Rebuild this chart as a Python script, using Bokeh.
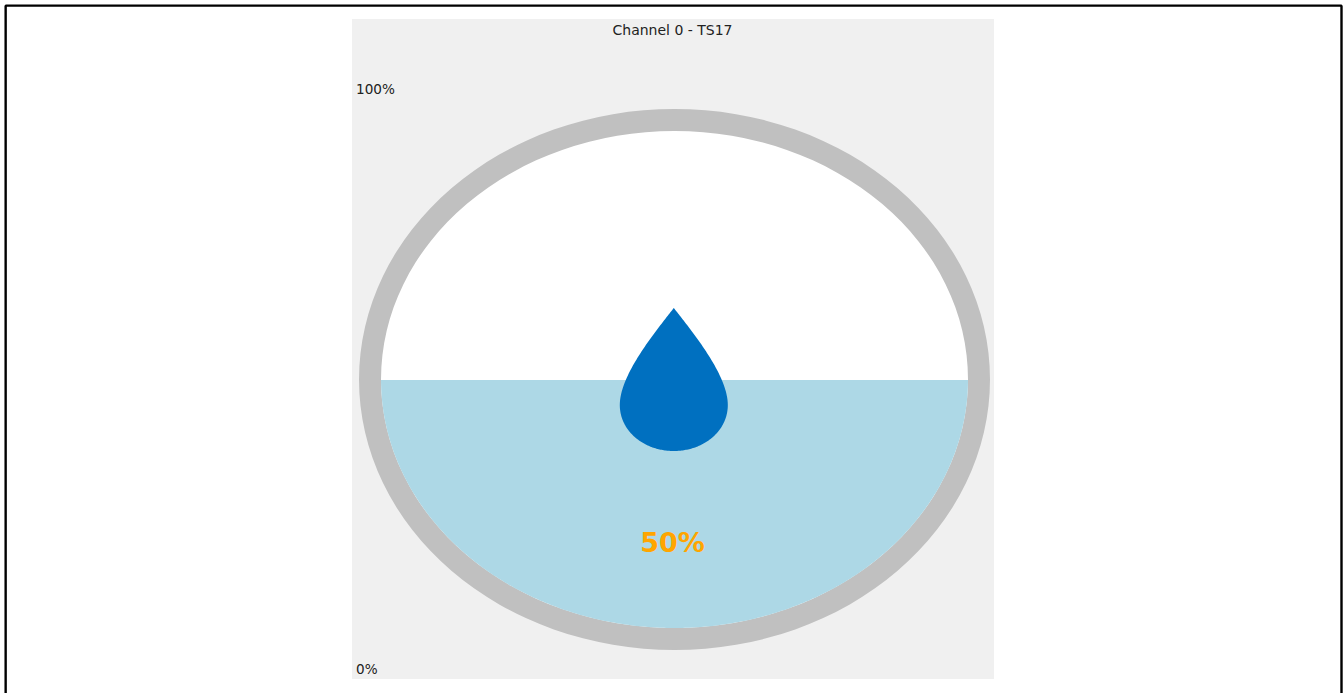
import numpy as np
from bokeh.embed import file_html
from bokeh.models import Range1d
from bokeh.plotting import figure
from bokeh.resources import INLINE

# --- data ---
title = "Channel 0 - TS17"
level_percent = 50
scale_labels = ["100%", "0%"]
level_label = "50%"

# --- layout (screen pixels) ---
W, H = 1343, 693
cx, cy = 674.5, 379.5
outer_rx, outer_ry = 315.5, 270.5
inner_rx, inner_ry = 293.5, 248.5
scale_top, scale_bottom = 132, 628

p = figure(width=W, height=H, output_backend="svg", toolbar_location=None,
           x_range=Range1d(0.5, W + 0.5), y_range=Range1d(H + 0.5, 0.5), min_border=0,
           x_axis_location=None, y_axis_location=None, outline_line_color=None,
           background_fill_color="white", border_fill_color="white")
p.grid.visible = False
p.styles = {"position": "absolute", "left": "0px", "top": "0px"}

# frame and panel
p.quad(left=[5.65], right=[1341.5], top=[5.65], bottom=[720], fill_color=None,
       line_color="black", line_width=2.4)
p.quad(left=[352], right=[994], top=[19], bottom=[679], fill_color="#F0F0F0", line_color=None)

# gauge ring and interior
p.ellipse(x=[cx], y=[cy], width=[2 * outer_rx], height=[2 * outer_ry], fill_color="#C0C0C0", line_color=None)
p.ellipse(x=[cx], y=[cy], width=[2 * inner_rx], height=[2 * inner_ry], fill_color="white", line_color=None)

# liquid: part of the interior below the level
level_y = scale_bottom - (scale_bottom - scale_top) * level_percent / 100
a0 = np.arcsin(np.clip((level_y - cy) / inner_ry, -1, 1))
t = np.linspace(a0, np.pi - a0, 400)
p.patch(cx + inner_rx * np.cos(t), cy + inner_ry * np.sin(t), fill_color="#ADD8E6", line_color=None)

# drop
def bez(P0, P1, P2, P3, n=80):
    s = np.linspace(0, 1, n)[:, None]
    P0, P1, P2, P3 = map(np.array, (P0, P1, P2, P3))
    return (1-s)**3*P0 + 3*(1-s)**2*s*P1 + 3*(1-s)*s**2*P2 + s**3*P3

right = np.vstack([
    bez((0, 308), (22, 336), (54, 376), (54, 405)),
    bez((54, 405), (54, 431), (30, 451), (0, 451)),
])
left = right[::-1] * np.array([-1, 1])
drop = np.vstack([right, left])
p.patch(673.8 + drop[:, 0], drop[:, 1], fill_color="#0070C0", line_color=None)

# text
small = dict(text_font={"value": "DejaVu Sans"}, text_color="#222222")
p.text(x=[672.5], y=[29.8], text=[title], text_align="center", text_baseline="middle",
       text_font_size="14px", **small)
p.text(x=[356], y=[88.8], text=[scale_labels[0]], text_align="left", text_baseline="middle",
       text_font_size="13.6px", **small)
p.text(x=[356], y=[668.8], text=[scale_labels[1]], text_align="left", text_baseline="middle",
       text_font_size="13.6px", **small)
p.text(x=[672.5], y=[542.5], text=[level_label], text_align="center", text_baseline="middle",
       text_font={"value": "DejaVu Sans"}, text_font_style="bold", text_font_size="27px", text_color="#FFA500")

open("out.html", "w").write(file_html(p, INLINE))
